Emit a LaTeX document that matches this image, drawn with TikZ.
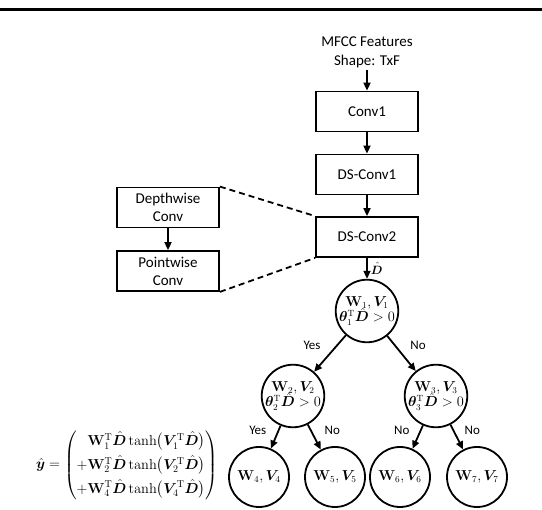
\documentclass[tikz,border=0pt]{standalone}
\usepackage{amsmath,bm}
\usepackage[no-math]{fontspec}
\setmainfont{Carlito}
\usetikzlibrary{arrows.meta}
\begin{document}
\begin{tikzpicture}[x=1pt,y=-1pt,
  box/.style={draw, line width=1.8pt, minimum width=102pt, minimum height=40pt, inner sep=0pt, font=\fontsize{15}{18}\selectfont, align=center},
  tnode/.style={draw, circle, line width=1.8pt, minimum size=60pt, inner sep=0pt, font=\fontsize{13.5}{14}\selectfont, align=center},
  arr/.style={line width=1.8pt, -{Triangle[length=8pt,width=7pt]}},
  dashln/.style={line width=1.8pt, dash pattern=on 6pt off 4pt},
  lbl/.style={font=\fontsize{13}{15}\selectfont, inner sep=0pt}
]
\useasboundingbox (0,0) rectangle (542,510);
\fill (0,8) rectangle (542,11.5);
\node[align=center, font=\fontsize{15}{19}\selectfont, inner sep=2pt] (in) at (367,52) {MFCC Features\\Shape: TxF};
\node[box] (c1) at (367,111.5) {Conv1};
\node[box] (ds1) at (367,174.5) {DS-Conv1};
\node[box] (ds2) at (367,237) {DS-Conv2};
\node[box] (dw) at (168,207.5) {Depthwise\\Conv};
\node[box] (pw) at (168,271) {Pointwise\\Conv};
\draw[arr] (in) -- (c1);
\draw[arr] (c1) -- (ds1);
\draw[arr] (ds1) -- (ds2);
\draw[arr] (dw) -- (pw);
\draw[dashln] (dw.north east) -- (ds2.north west);
\draw[dashln] (pw.south east) -- (ds2.south west);
\node[tnode] (t1) at (367,311) {$\mathbf{W}_1,\boldsymbol{V}_1$\\[-2pt]$\boldsymbol{\theta}_1^{\mathrm{T}}\hat{\boldsymbol{D}}>0$};
\node[tnode] (t2) at (293,396) {$\mathbf{W}_2,\boldsymbol{V}_2$\\[-2pt]$\boldsymbol{\theta}_2^{\mathrm{T}}\hat{\boldsymbol{D}}>0$};
\node[tnode] (t3) at (436,396) {$\mathbf{W}_3,\boldsymbol{V}_3$\\[-2pt]$\boldsymbol{\theta}_3^{\mathrm{T}}\hat{\boldsymbol{D}}>0$};
\node[tnode] (t4) at (259,477) {$\mathbf{W}_4,\boldsymbol{V}_4$};
\node[tnode] (t5) at (335,477) {$\mathbf{W}_5,\boldsymbol{V}_5$};
\node[tnode] (t6) at (400,477) {$\mathbf{W}_6,\boldsymbol{V}_6$};
\node[tnode] (t7) at (477,477) {$\mathbf{W}_7,\boldsymbol{V}_7$};
\draw[arr] (ds2) -- node[right, font=\fontsize{13}{14}\selectfont, inner sep=3pt] {$\hat{\boldsymbol{D}}$} (t1);
\draw[arr] (t1) -- node[lbl, pos=0.5, xshift=-18pt, yshift=8pt] {Yes} (t2);
\draw[arr] (t1) -- node[lbl, pos=0.5, xshift=16.5pt, yshift=8pt] {No} (t3);
\draw[arr] (t2) -- node[lbl, pos=0.5, xshift=-18pt, yshift=6.5pt] {Yes} (t4);
\draw[arr] (t2) -- node[lbl, pos=0.5, xshift=18pt, yshift=6.5pt] {No} (t5);
\draw[arr] (t3) -- node[lbl, pos=0.5, xshift=-16pt, yshift=6.5pt] {No} (t6);
\draw[arr] (t3) -- node[lbl, pos=0.5, xshift=15.5pt, yshift=6.5pt] {No} (t7);
\node[anchor=east, inner sep=0pt, font=\fontsize{14.5}{17}\selectfont] (eq) at (218,465) {$\hat{\boldsymbol{y}}=\left(\begin{array}{@{}r@{}}
\mathbf{W}_1^{\mathrm{T}}\hat{\boldsymbol{D}}\tanh\bigl(\boldsymbol{V}_1^{\mathrm{T}}\hat{\boldsymbol{D}}\bigr)\\[5pt]
+\mathbf{W}_2^{\mathrm{T}}\hat{\boldsymbol{D}}\tanh\bigl(\boldsymbol{V}_2^{\mathrm{T}}\hat{\boldsymbol{D}}\bigr)\\[5pt]
+\mathbf{W}_4^{\mathrm{T}}\hat{\boldsymbol{D}}\tanh\bigl(\boldsymbol{V}_4^{\mathrm{T}}\hat{\boldsymbol{D}}\bigr)
\end{array}\right)$};
\end{tikzpicture}
\end{document}
